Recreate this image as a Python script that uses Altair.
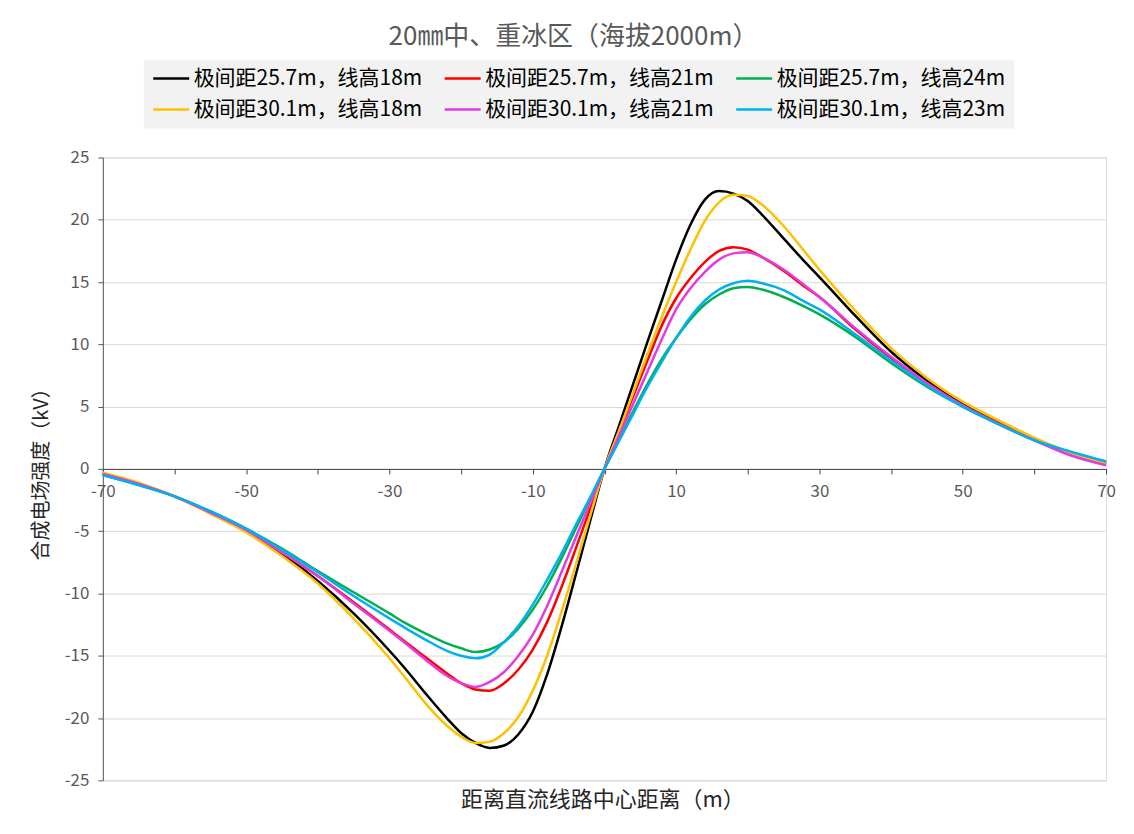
import altair as alt
import pandas as pd

# ---------------- data ----------------
x_m = [-70, -65, -60, -55, -50, -45, -40, -35, -30, -28, -25, -22, -20, -18, -16, -14, -12, -10, -8, -6, -4, -2,
       0, 2, 4, 6, 8, 10, 12, 14, 16, 18, 20, 22, 25, 28, 30, 35, 40, 45, 50, 55, 60, 65, 70]

s_257_18 = [-0.4, -1.2, -2.2, -3.5, -5.0, -6.8, -9.0, -11.6, -14.6, -15.9, -18.0, -20.0, -21.2, -22.0, -22.4, -22.2,
            -21.3, -19.5, -16.5, -12.7, -8.5, -4.2,
            0.0, 3.4, 6.8, 10.2, 13.5, 16.8, 19.6, 21.6, 22.3, 22.1, 21.5, 20.4, 18.5, 16.6, 15.4, 12.3, 9.4, 7.1,
            5.2, 3.7, 2.4, 1.3, 0.5]
s_257_21 = [-0.4, -1.2, -2.2, -3.5, -4.9, -6.7, -8.6, -10.7, -12.9, -13.8, -15.1, -16.4, -17.2, -17.7, -17.8, -17.2,
            -16.1, -14.5, -12.3, -9.5, -6.4, -3.2,
            0.0, 2.9, 5.8, 8.7, 11.5, 13.7, 15.3, 16.6, 17.5, 17.8, 17.6, 17.0, 15.9, 14.6, 13.8, 11.2, 8.9, 6.9,
            5.1, 3.7, 2.4, 1.2, 0.4]
s_257_24 = [-0.5, -1.3, -2.2, -3.4, -4.8, -6.4, -8.2, -9.9, -11.6, -12.3, -13.2, -14.0, -14.4, -14.7, -14.5, -13.9,
            -12.8, -11.3, -9.4, -7.2, -4.8, -2.4,
            0.0, 2.3, 4.6, 6.8, 8.8, 10.5, 12.0, 13.2, 14.0, 14.5, 14.6, 14.4, 13.8, 13.0, 12.4, 10.6, 8.5, 6.6,
            5.0, 3.6, 2.3, 1.3, 0.6]
s_301_18 = [-0.3, -1.1, -2.2, -3.6, -5.1, -7.0, -9.2, -12.0, -15.2, -16.6, -18.8, -20.6, -21.5, -22.0, -21.9, -21.2,
            -19.9, -17.8, -15.0, -11.5, -7.7, -3.8,
            0.0, 3.0, 6.1, 9.2, 12.2, 15.0, 17.6, 19.9, 21.4, 22.0, 21.9, 21.2, 19.5, 17.4, 16.0, 12.7, 9.7, 7.3,
            5.4, 3.9, 2.5, 1.3, 0.4]
s_301_21 = [-0.4, -1.2, -2.2, -3.5, -4.9, -6.7, -8.6, -10.8, -13.0, -13.9, -15.3, -16.6, -17.2, -17.5, -17.1, -16.3,
            -15.0, -13.3, -11.0, -8.3, -5.5, -2.8,
            0.0, 2.6, 5.2, 7.8, 10.4, 12.8, 14.5, 15.8, 16.8, 17.3, 17.4, 17.0, 16.0, 14.7, 13.8, 11.3, 9.0, 6.9,
            5.1, 3.6, 2.3, 1.1, 0.3]
s_301_23 = [-0.5, -1.3, -2.2, -3.4, -4.8, -6.5, -8.3, -10.2, -12.0, -12.7, -13.7, -14.6, -15.0, -15.2, -14.9, -13.9,
            -12.6, -10.9, -8.9, -6.8, -4.5, -2.3,
            0.0, 2.2, 4.4, 6.6, 8.6, 10.5, 12.2, 13.5, 14.4, 14.9, 15.1, 14.9, 14.35, 13.4, 12.8, 10.8, 8.7, 6.7,
            5.0, 3.6, 2.3, 1.4, 0.6]

series_names = ["极间距25.7m，线高18m", "极间距25.7m，线高21m", "极间距25.7m，线高24m",
                "极间距30.1m，线高18m", "极间距30.1m，线高21m", "极间距30.1m，线高23m"]
series_values = [s_257_18, s_257_21, s_257_24, s_301_18, s_301_21, s_301_23]
series_colors = ["#000000", "#FF0000", "#00B050", "#FFC000", "#E23BE2", "#00B0F0"]

y_ticks = [-25, -20, -15, -10, -5, 0, 5, 10, 15, 20, 25]
x_ticks = [-70, -60, -50, -40, -30, -20, -10, 0, 10, 20, 30, 40, 50, 60, 70]

title_text = "20㎜中、重冰区（海拔2000m）"
x_title = "距离直流线路中心距离（m）"
y_title = "合成电场强度（kV）"

# ---------------- table ----------------
rows = []
for k, (name, vals) in enumerate(zip(series_names, series_values)):
    for xv, yv in zip(x_m, vals):
        rows.append({"x": xv, "v": yv, "series": name, "k": k})
df = pd.DataFrame(rows)

FONT = "Noto Sans CJK SC"
W, H = 1005, 624

chart = alt.Chart(df).mark_line(strokeWidth=2.5, interpolate="monotone").encode(
    x=alt.X("x:Q",
            scale=alt.Scale(domain=[-70, 70], nice=False, zero=False),
            axis=alt.Axis(values=x_ticks,
                          labelExpr="abs(datum.value) % 20 == 10 ? replace(datum.label, '\u2212', '-') : ''",
                          offset=-H / 2,
                          grid=False,
                          domainColor="#404040", domainWidth=1,
                          tickColor="#404040", tickSize=5, tickWidth=1,
                          labelFont=FONT, labelFontSize=17, labelColor="#595959",
                          labelPadding=10, labelFlush=False, labelOverlap=False,
                          title=x_title, titleFont=FONT, titleFontSize=22,
                          titleFontWeight="normal", titleColor="#262626",
                          titleX=W / 2 - 2, titleY=H / 2 + 19, titleAlign="center",
                          titleBaseline="middle")),
    y=alt.Y("v:Q",
            scale=alt.Scale(domain=[-25, 25], nice=False, zero=False),
            axis=alt.Axis(values=y_ticks, grid=True, gridColor="#D9D9D9", gridWidth=1,
                          labelExpr="replace(datum.label, '\u2212', '-')",
                          domainColor="#595959", domainWidth=1,
                          tickColor="#595959", tickSize=5,
                          labelFont=FONT, labelFontSize=17, labelColor="#595959",
                          labelPadding=9,
                          title=y_title, titleFont=FONT, titleFontSize=20,
                          titleFontWeight="normal", titleColor="#262626",
                          titleX=-61, titleY=H / 2, titleAngle=270,
                          titleAlign="center", titleBaseline="middle")),
    color=alt.Color("series:N",
                    scale=alt.Scale(domain=series_names, range=series_colors),
                    legend=alt.Legend(orient="none", legendX=41, legendY=-98,
                                      columns=3, direction="horizontal", title=None,
                                      fillColor="#F2F2F2", padding=8,
                                      symbolType="stroke", symbolSize=1296,
                                      symbolStrokeWidth=2.5, clipHeight=22,
                                      labelFont=FONT, labelFontSize=21,
                                      labelColor="#000000", labelLimit=400,
                                      labelOffset=3, rowPadding=9,
                                      columnPadding=20)),
    order=alt.Order("k:Q"),
).properties(
    width=W, height=H,
    autosize=alt.AutoSizeParams(type="none"),
    padding={"left": 95, "top": 149, "right": 20, "bottom": 40},
    title=alt.TitleParams(text=title_text, font=FONT, fontSize=26,
                          fontWeight="normal", color="#595959",
                          anchor="middle", dx=-31, offset=10),
).configure_view(stroke=None).configure(background="white")

chart.save("out.html", embed_options={"renderer": "svg", "actions": False})
